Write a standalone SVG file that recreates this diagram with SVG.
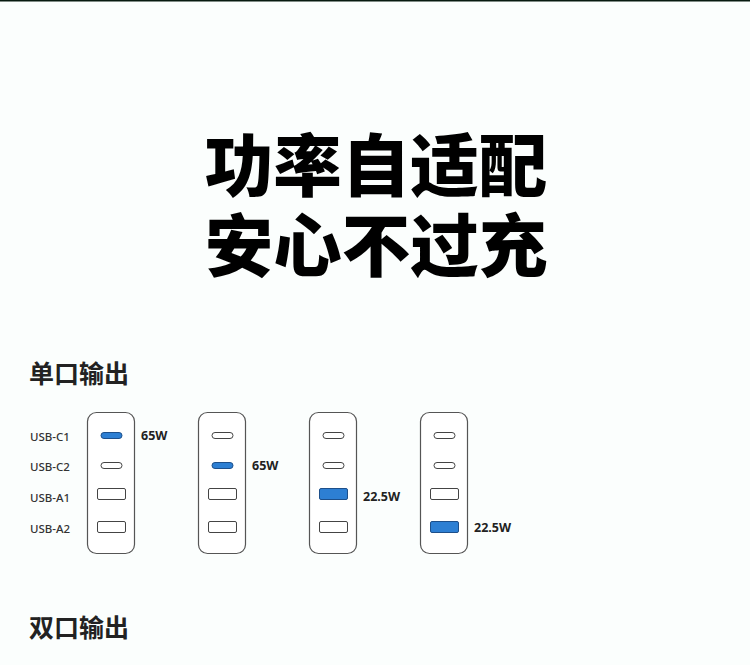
<svg xmlns="http://www.w3.org/2000/svg" width="750" height="665" viewBox="0 0 750 665">
<style>
.title{font-family:"Noto Sans CJK SC","Noto Sans CJK JP",sans-serif;font-weight:900;font-size:68.5px;fill:#000;text-anchor:middle}
.head{font-family:"Noto Sans CJK SC","Noto Sans CJK JP",sans-serif;font-weight:700;font-size:25px;fill:#222}
.lbl{font-family:"Noto Sans","Liberation Sans",sans-serif;font-weight:500;font-size:11.5px;fill:#333}
.pw{font-family:"Noto Sans","Liberation Sans",sans-serif;font-weight:700;font-size:12.5px;fill:#222}
.body{fill:#fff;stroke:#555;stroke-width:1.2}
.port{fill:#fff;stroke:#444;stroke-width:1}
.on{fill:#2d7fd3;stroke:#1d4f8a;stroke-width:1}
</style>
<defs>
<g id="dev">
<rect class="body" x="0.5" y="0.5" width="47" height="141" rx="9"/>
</g>
</defs>
<rect x="0" y="0" width="750" height="665" fill="#fbfefd"/>
<rect x="0" y="0" width="750" height="1.5" fill="#071a10"/>
<text class="title" x="376" y="191"><tspan x="376" y="191">功率自适配</tspan><tspan x="376" y="271">安心不过充</tspan></text>
<text class="head" x="29" y="383">单口输出</text>
<text class="head" x="29" y="637">双口输出</text>
<g id="labels">
<text class="lbl" x="30" y="440.5">USB-C1</text>
<text class="lbl" x="30" y="471">USB-C2</text>
<text class="lbl" x="30" y="502">USB-A1</text>
<text class="lbl" x="30" y="532.5">USB-A2</text>
</g>
<g id="device1" transform="translate(87,412)">
<use href="#dev"/>
<rect class="on" x="14" y="20.5" width="21" height="6" rx="3"/>
<rect class="port" x="14" y="50.5" width="21" height="6" rx="3"/>
<rect class="port" x="10.5" y="76.5" width="28" height="11" rx="1.5"/>
<rect class="port" x="10.5" y="109.5" width="28" height="11" rx="1.5"/>
<text class="pw" x="54" y="28">65W</text>
</g>
<g id="device2" transform="translate(198,412)">
<use href="#dev"/>
<rect class="port" x="14" y="20.5" width="21" height="6" rx="3"/>
<rect class="on" x="14" y="50.5" width="21" height="6" rx="3"/>
<rect class="port" x="10.5" y="76.5" width="28" height="11" rx="1.5"/>
<rect class="port" x="10.5" y="109.5" width="28" height="11" rx="1.5"/>
<text class="pw" x="54" y="58">65W</text>
</g>
<g id="device3" transform="translate(309,412)">
<use href="#dev"/>
<rect class="port" x="14" y="20.5" width="21" height="6" rx="3"/>
<rect class="port" x="14" y="50.5" width="21" height="6" rx="3"/>
<rect class="on" x="10.5" y="76.5" width="28" height="11" rx="1.5"/>
<rect class="port" x="10.5" y="109.5" width="28" height="11" rx="1.5"/>
<text class="pw" x="54" y="88.5">22.5W</text>
</g>
<g id="device4" transform="translate(420,412)">
<use href="#dev"/>
<rect class="port" x="14" y="20.5" width="21" height="6" rx="3"/>
<rect class="port" x="14" y="50.5" width="21" height="6" rx="3"/>
<rect class="port" x="10.5" y="76.5" width="28" height="11" rx="1.5"/>
<rect class="on" x="10.5" y="109.5" width="28" height="11" rx="1.5"/>
<text class="pw" x="54" y="119.5">22.5W</text>
</g>
<g id="connectors"></g>
</svg>
